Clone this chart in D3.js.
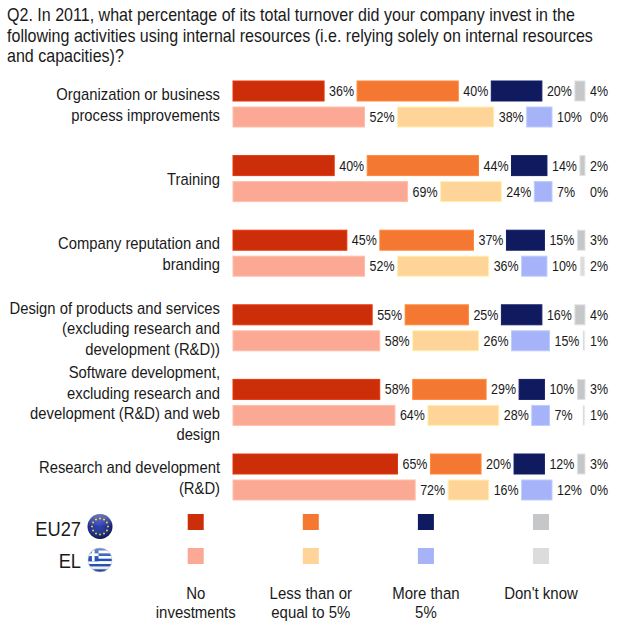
<!DOCTYPE html>
<html>
<head>
<meta charset="utf-8">
<script src="https://cdn.jsdelivr.net/npm/d3@7"></script>
<style>
  body { margin: 0; background: #fff; }
  svg { display: block; }
  text { font-family: "Liberation Sans", Arial, sans-serif; fill: #1a1a1a; }
</style>
</head>
<body>
<div id="chart"></div>
<script>
// ---- Data ----
const titleLines = [
  "Q2. In 2011, what percentage of its total turnover did your company invest in the",
  "following activities using internal resources (i.e. relying solely on internal resources",
  "and capacities)?"
]

const categories = [
  ["Organization or business", "process improvements"],
  ["Training"],
  ["Company reputation and", "branding"],
  ["Design of products and services", "(excluding research and", "development (R&D))"],
  ["Software development,", "excluding research and", "development (R&D) and web", "design"],
  ["Research and development", "(R&D)"]
]

const seriesNames = ["No investments", "Less than or equal to 5%", "More than 5%", "Don't know"]
const legendLabels = [["No", "investments"], ["Less than or", "equal to 5%"], ["More than", "5%"], ["Don't know"]]

const eu27Values = [
  [36, 40, 20, 4],
  [40, 44, 14, 2],
  [45, 37, 15, 3],
  [55, 25, 16, 4],
  [58, 29, 10, 3],
  [65, 20, 12, 3]
]
const elValues = [
  [52, 38, 10, 0],
  [69, 24, 7, 0],
  [52, 36, 10, 2],
  [58, 26, 15, 1],
  [64, 28, 7, 1],
  [72, 16, 12, 0]
]

const groups = ["EU27", "EL"]

// ---- Layout / style ----
const W = 620, H = 630
const colors = {
  EU27: ["#cc2e0a", "#f47832", "#101a5e", "#c6c7c9"],
  EL: ["#fba895", "#fed499", "#a6b3f8", "#dcdcdc"]
}
const barX0 = 233
const segGap = 33
const barH = 20
const rowOffset = { EU27: 0, EL: 26 }

const svg = d3.select("#chart").append("svg").attr("width", W).attr("height", H)

// no narrow font installed: squeeze text horizontally around its anchor x
let narrowK = 0.82
function narrowText(parent, ax, size, anchor) {
  return parent.append("g")
    .attr("transform", `translate(${ax},0) scale(${narrowK},1)`)
    .append("text")
    .attr("text-anchor", anchor || "start")
    .style("font-size", size + "px")
}

// title (squeeze factor taken from the title's first line width)
const probe = svg.append("text").style("font-size", "18px").text(titleLines[0])
narrowK = 568 / probe.node().getComputedTextLength()
probe.remove()

titleLines.forEach((line, i) => {
  narrowText(svg, 7, 18, "start")
    .attr("x", 0)
    .attr("y", 21.5 + i * 20.5)
    .text(line)
})

// scales
const x = d3.scaleLinear().domain([0, 100]).range([0, 253])
const y = d3.scaleBand().domain(d3.range(categories.length)).range([81, 81 + 74.6 * categories.length])

// category labels
categories.forEach((lines, i) => {
  const cy = y(i) + 23.5
  const lh = 20.5
  const top = cy - (lines.length - 1) * lh / 2
  narrowText(svg, 220, 16.6, "end")
    .selectAll("tspan")
    .data(lines)
    .join("tspan")
    .attr("x", 0)
    .attr("y", (d, j) => top + j * lh + 6)
    .text(d => d)
})

// bars
function segments(values) {
  let cum = 0
  return values.map((v, k) => {
    const s = { v, k, start: barX0 + x(cum) + k * segGap, w: x(v) }
    cum += v
    return s
  })
}

const barsG = svg.append("g")
groups.forEach(g => {
  const vals = g === "EU27" ? eu27Values : elValues
  vals.forEach((row, i) => {
    const segs = segments(row)
    const rowG = barsG.append("g").attr("transform", `translate(0, ${y(i) + rowOffset[g]})`)
    rowG.selectAll("rect")
      .data(segs)
      .join("rect")
      .attr("x", d => d.start)
      .attr("y", 0)
      .attr("width", d => d.w)
      .attr("height", barH)
      .attr("fill", d => colors[g][d.k])
      .attr("stroke", d => d3.color(colors[g][d.k]).brighter(0.35))
      .attr("stroke-width", 1)
    segs.forEach(d => {
      narrowText(rowG, d.start + d.w + 5, 14, "start")
        .attr("x", 0)
        .attr("y", barH / 2 + 5)
        .text(d.v + "%")
    })
  })
})

// legend
const lx = d3.scalePoint().domain(seriesNames).range([195.7, 541])
const legendRowY = { EU27: 514, EL: 548 }
const legG = svg.append("g")
groups.forEach(g => {
  legG.append("g").selectAll("rect")
    .data(seriesNames)
    .join("rect")
    .attr("x", d => lx(d) - 8)
    .attr("y", legendRowY[g])
    .attr("width", 16)
    .attr("height", 16)
    .attr("fill", (d, k) => colors[g][k])
})
seriesNames.forEach((name, k) => {
  narrowText(legG, lx(name), 16.8, "middle")
    .selectAll("tspan")
    .data(legendLabels[k])
    .join("tspan")
    .attr("x", 0)
    .attr("y", (d, j) => 599 + j * 19.5)
    .text(d => d)
})

// group labels with flags
narrowText(legG, 81, 20.5, "end").attr("x", 0).attr("y", 536).text("EU27")
narrowText(legG, 81, 20.5, "end").attr("x", 0).attr("y", 568.5).text("EL")

const defs = svg.append("defs")
const euGrad = defs.append("radialGradient").attr("id", "euGrad").attr("cx", "45%").attr("cy", "40%").attr("r", "60%")
euGrad.append("stop").attr("offset", "0%").attr("stop-color", "#3447b8")
euGrad.append("stop").attr("offset", "75%").attr("stop-color", "#1a2a8a")
euGrad.append("stop").attr("offset", "100%").attr("stop-color", "#0b1455")

const shine = defs.append("linearGradient").attr("id", "shine").attr("x1", 0).attr("y1", 0).attr("x2", 0).attr("y2", 1)
shine.append("stop").attr("offset", "0%").attr("stop-color", "#fff").attr("stop-opacity", 0.35)
shine.append("stop").attr("offset", "50%").attr("stop-color", "#fff").attr("stop-opacity", 0)
shine.append("stop").attr("offset", "100%").attr("stop-color", "#000").attr("stop-opacity", 0.15)

// EU flag
const eu = svg.append("g").attr("transform", "translate(100,526.5)")
eu.append("circle").attr("r", 12.5).attr("fill", "url(#euGrad)")
eu.selectAll(".star")
  .data(d3.range(12))
  .join("circle")
  .attr("cx", d => 8 * Math.cos(d * Math.PI / 6))
  .attr("cy", d => 8 * Math.sin(d * Math.PI / 6))
  .attr("r", 1)
  .attr("fill", "#f3d31a")
eu.append("circle").attr("r", 12.5).attr("fill", "url(#shine)")

// Greek flag
defs.append("clipPath").attr("id", "grClip").append("circle").attr("r", 12)
const gr = svg.append("g").attr("transform", "translate(100,560)")
const grG = gr.append("g").attr("clip-path", "url(#grClip)")
const stripeH = 24 / 9
grG.selectAll("rect.stripe")
  .data(d3.range(9))
  .join("rect")
  .attr("x", -12)
  .attr("y", d => -12 + d * stripeH)
  .attr("width", 24)
  .attr("height", stripeH)
  .attr("fill", d => d % 2 === 0 ? "#1f4fb4" : "#ffffff")
grG.append("rect").attr("x", -12).attr("y", -12).attr("width", 10.5).attr("height", stripeH * 5).attr("fill", "#1f4fb4")
grG.append("rect").attr("x", -12).attr("y", -12 + stripeH * 2).attr("width", 10.5).attr("height", stripeH).attr("fill", "#fff")
grG.append("rect").attr("x", -12 + 10.5 / 2 - stripeH / 2).attr("y", -12).attr("width", stripeH).attr("height", stripeH * 5).attr("fill", "#fff")
gr.append("circle").attr("r", 12).attr("fill", "url(#shine)")
gr.append("circle").attr("r", 12).attr("fill", "none").attr("stroke", "#c8c8d0").attr("stroke-width", 0.6)
</script>
</body>
</html>
